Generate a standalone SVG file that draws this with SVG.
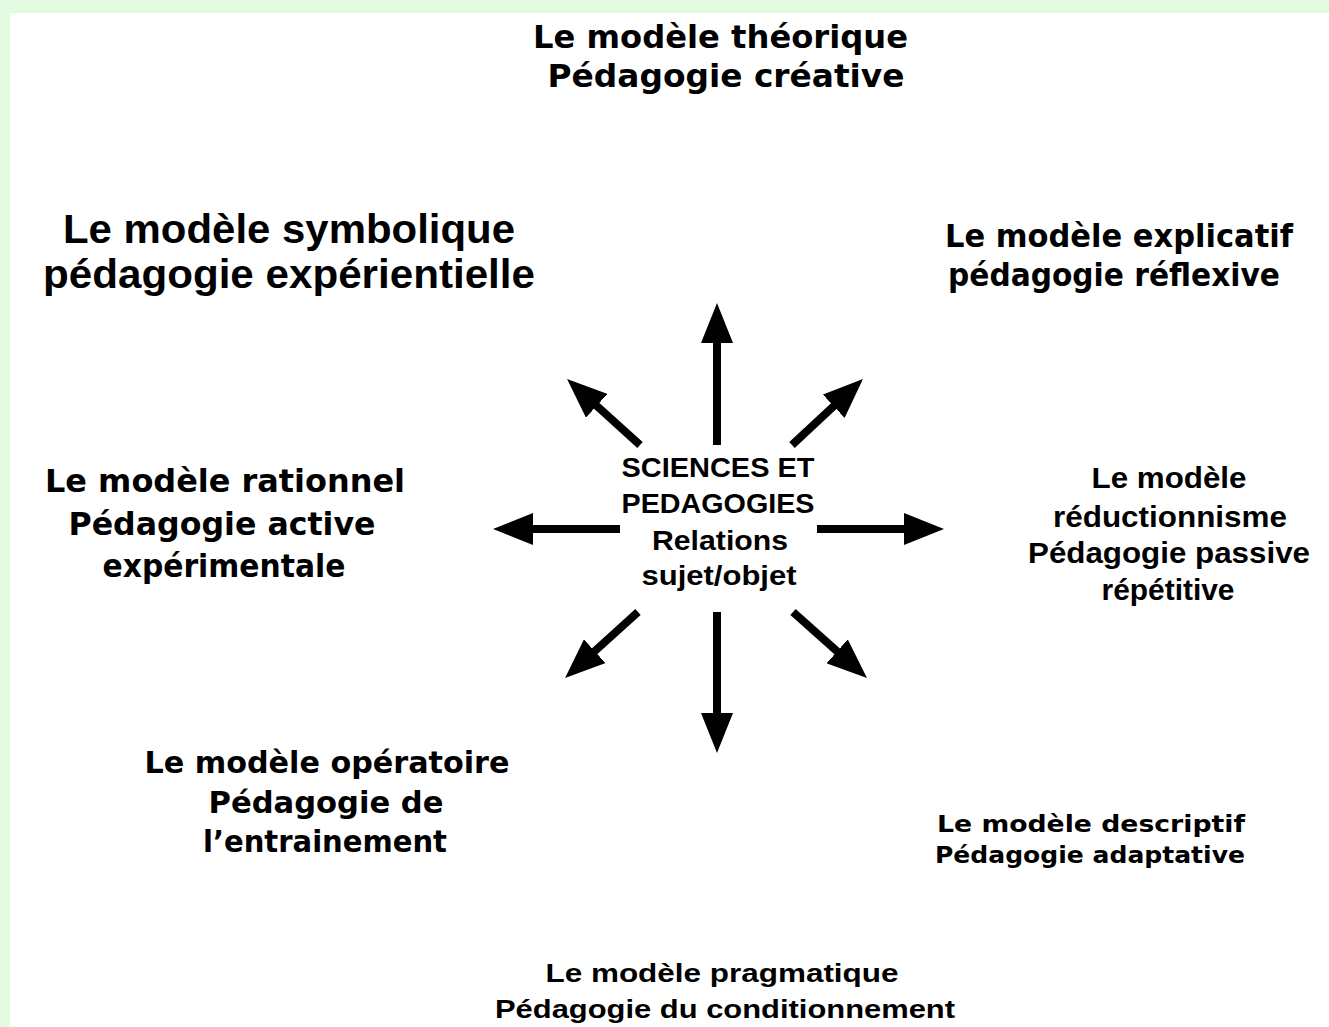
<svg xmlns="http://www.w3.org/2000/svg" width="1329" height="1027" viewBox="0 0 1329 1027">
<defs>
<style>
.v{font-family:"DejaVu Sans",Verdana,sans-serif;font-weight:bold;fill:#000;text-anchor:middle}
.a{font-family:"Liberation Sans",Arial,sans-serif;font-weight:bold;fill:#000;text-anchor:middle}
.shaft{stroke:#000;stroke-width:8;fill:none;marker-end:url(#head)}
</style>
<marker id="head" markerUnits="userSpaceOnUse" markerWidth="40" markerHeight="32" viewBox="0 0 40 32" refX="10" refY="16" orient="auto">
<path d="M0,0 L40,16 L0,32 z" fill="#000"/>
</marker>
</defs>
<rect x="0" y="0" width="1329" height="1027" fill="#e0fbe0"/>
<rect x="10" y="13" width="1319" height="1014" fill="#ffffff"/>

<g id="connectors">
<line class="shaft" x1="717" y1="445" x2="717" y2="333"/>
<line class="shaft" x1="717" y1="612" x2="717" y2="723"/>
<line class="shaft" x1="620" y1="529" x2="523" y2="529"/>
<line class="shaft" x1="817" y1="529" x2="914" y2="529"/>
<line class="shaft" x1="640" y1="445" x2="589.3" y2="399.1"/>
<line class="shaft" x1="792" y1="445" x2="841" y2="399.4"/>
<line class="shaft" x1="638" y1="612" x2="587.3" y2="657.9"/>
<line class="shaft" x1="793" y1="612" x2="844.6" y2="658"/>
</g>

<g id="center">
<text class="a" font-size="28" x="718" y="477" textLength="193" lengthAdjust="spacingAndGlyphs">SCIENCES ET</text>
<text class="a" font-size="28" x="718" y="513" textLength="193" lengthAdjust="spacingAndGlyphs">PEDAGOGIES</text>
<text class="a" font-size="28" x="720" y="550" textLength="136" lengthAdjust="spacingAndGlyphs">Relations</text>
<text class="a" font-size="28" x="719" y="585" textLength="155" lengthAdjust="spacingAndGlyphs">sujet/objet</text>
</g>

<g id="theorique">
<text class="v" font-size="32" x="720.5" y="48" textLength="375" lengthAdjust="spacingAndGlyphs">Le modèle théorique</text>
<text class="v" font-size="32" x="726" y="87" textLength="357" lengthAdjust="spacingAndGlyphs">Pédagogie créative</text>
</g>

<g id="symbolique">
<text class="a" font-size="40" x="289" y="243" textLength="452" lengthAdjust="spacingAndGlyphs" style="font-weight:600">Le modèle symbolique</text>
<text class="a" font-size="40" x="289" y="288" textLength="492" lengthAdjust="spacingAndGlyphs" style="font-weight:600">pédagogie expérientielle</text>
</g>

<g id="explicatif">
<text class="v" font-size="32" x="1119" y="247" textLength="348" lengthAdjust="spacingAndGlyphs">Le modèle explicatif</text>
<text class="v" font-size="32" x="1114" y="286" textLength="332" lengthAdjust="spacingAndGlyphs">pédagogie réflexive</text>
</g>

<g id="rationnel">
<text class="v" font-size="32" x="225" y="492" textLength="360" lengthAdjust="spacingAndGlyphs">Le modèle rationnel</text>
<text class="v" font-size="32" x="222" y="535" textLength="307" lengthAdjust="spacingAndGlyphs">Pédagogie active</text>
<text class="v" font-size="32" x="224" y="577" textLength="243" lengthAdjust="spacingAndGlyphs">expérimentale</text>
</g>

<g id="reductionnisme">
<text class="a" font-size="30" x="1169" y="488" textLength="155" lengthAdjust="spacingAndGlyphs">Le modèle</text>
<text class="a" font-size="30" x="1170" y="527" textLength="234" lengthAdjust="spacingAndGlyphs">réductionnisme</text>
<text class="a" font-size="30" x="1169" y="563" textLength="282" lengthAdjust="spacingAndGlyphs">Pédagogie passive</text>
<text class="a" font-size="30" x="1168" y="600" textLength="133" lengthAdjust="spacingAndGlyphs">répétitive</text>
</g>

<g id="operatoire">
<text class="v" font-size="30" x="327" y="773" textLength="365" lengthAdjust="spacingAndGlyphs">Le modèle opératoire</text>
<text class="v" font-size="30" x="326" y="813" textLength="235" lengthAdjust="spacingAndGlyphs">Pédagogie de</text>
<text class="v" font-size="30" x="325" y="852" textLength="244" lengthAdjust="spacingAndGlyphs">l’entrainement</text>
</g>

<g id="descriptif">
<text class="v" font-size="23" x="1091" y="832" textLength="308" lengthAdjust="spacingAndGlyphs">Le modèle descriptif</text>
<text class="v" font-size="23" x="1090" y="863" textLength="310" lengthAdjust="spacingAndGlyphs">Pédagogie adaptative</text>
</g>

<g id="pragmatique">
<text class="a" font-size="26" x="722" y="982" textLength="353" lengthAdjust="spacingAndGlyphs">Le modèle pragmatique</text>
<text class="a" font-size="26" x="725" y="1018" textLength="460" lengthAdjust="spacingAndGlyphs">Pédagogie du conditionnement</text>
</g>
</svg>
